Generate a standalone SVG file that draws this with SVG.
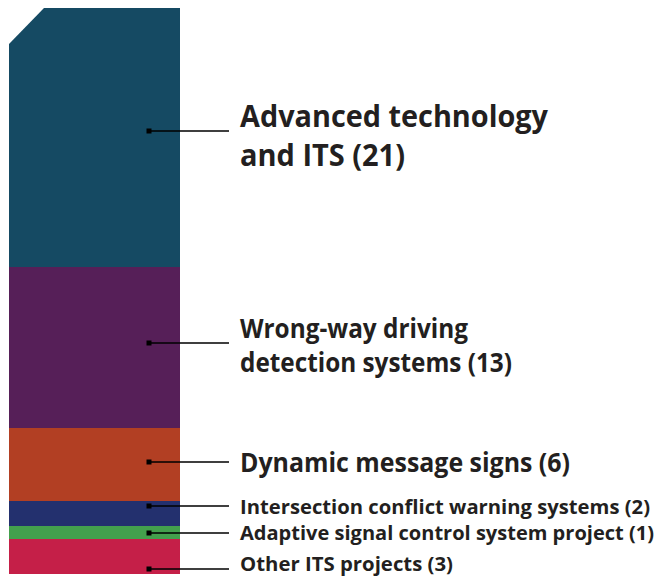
<svg xmlns="http://www.w3.org/2000/svg" width="659" height="580" viewBox="0 0 659 580">
<style>
text{font-family:"Open Sans","Liberation Sans",Arial,sans-serif;font-weight:700;fill:#231f20}
.l{font-size:31px}.m{font-size:26px}.s{font-size:19.5px}
.c{stroke:#000;stroke-width:1.5;fill:none}
.d{fill:#000}
</style>
<rect width="659" height="580" fill="#fff"/>
<g id="bar-advanced"><polygon points="44,8 180,8 180,267 9,267 9,44" fill="#154a63"/></g>
<g id="bar-wrongway"><rect x="9" y="267" width="171" height="161" fill="#561f58"/></g>
<g id="bar-dms"><rect x="9" y="428" width="171" height="73" fill="#b23f23"/></g>
<g id="bar-intersection"><rect x="9" y="501" width="171" height="25" fill="#23306e"/></g>
<g id="bar-adaptive"><rect x="9" y="526" width="171" height="13" fill="#43a04d"/></g>
<g id="bar-other"><rect x="9" y="539" width="171" height="35" fill="#c51f48"/></g>
<g id="connectors">
<path class="c" d="M149,131H229M149,343H229M149,462H229M149,506H229M149,533H229M149,569H229"/>
<rect class="d" x="146.5" y="128.5" width="5" height="5"/>
<rect class="d" x="146.5" y="340.5" width="5" height="5"/>
<rect class="d" x="146.5" y="459.5" width="5" height="5"/>
<rect class="d" x="146.5" y="503.5" width="5" height="5"/>
<rect class="d" x="146.5" y="530.5" width="5" height="5"/>
<rect class="d" x="146.5" y="566.5" width="5" height="5"/>
</g>
<g id="label-advanced"><text class="l" x="240" y="127" textLength="308" lengthAdjust="spacingAndGlyphs">Advanced technology</text><text class="l" x="240" y="166" textLength="165" lengthAdjust="spacingAndGlyphs">and ITS (21)</text></g>
<g id="label-wrongway"><text class="m" x="240" y="338" textLength="228" lengthAdjust="spacingAndGlyphs">Wrong-way driving</text><text class="m" x="240" y="372" textLength="272" lengthAdjust="spacingAndGlyphs">detection systems (13)</text></g>
<g id="label-dms"><text class="m" x="240" y="472" textLength="330" lengthAdjust="spacingAndGlyphs">Dynamic message signs (6)</text></g>
<g id="label-intersection"><text class="s" x="240" y="514" textLength="410" lengthAdjust="spacingAndGlyphs">Intersection conflict warning systems (2)</text></g>
<g id="label-adaptive"><text class="s" x="240" y="540" textLength="414" lengthAdjust="spacingAndGlyphs">Adaptive signal control system project (1)</text></g>
<g id="label-other"><text class="s" x="240" y="571" textLength="213" lengthAdjust="spacingAndGlyphs">Other ITS projects (3)</text></g>
</svg>
